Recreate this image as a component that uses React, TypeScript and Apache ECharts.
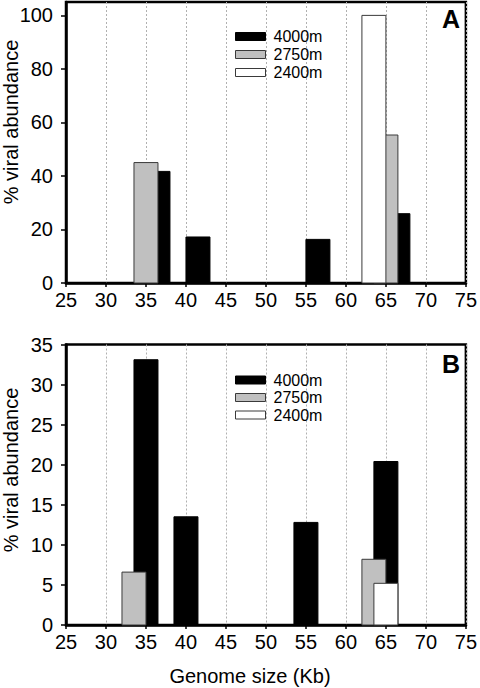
import React, { useEffect, useRef } from "react";
import * as echarts from "echarts";

// Genome size bins (Kb)
const genomeSizes = [35, 40, 55, 65];
const depthNames = ["4000m", "2750m", "2400m"];

// Panel A: % viral abundance
const a4000m = [41.7, 17.2, 16.3, 25.9];
const a2750m = [45.0, null, null, 55.3];
const a2400m = [null, null, null, 100.0];

// Panel B: % viral abundance
const b4000m = [33.1, 13.5, 12.8, 20.4];
const b2750m = [6.6, null, null, 8.2];
const b2400m = [null, null, null, 5.2];

const xTicks = [25, 30, 35, 40, 45, 50, 55, 60, 65, 70, 75];
const yTicksA = [0, 20, 40, 60, 80, 100];
const yTicksB = [0, 5, 10, 15, 20, 25, 30, 35];

const FONT = "Liberation Sans, Arial, Helvetica, sans-serif";

const styles: Record<string, { fill: string; stroke: string }> = {
  "4000m": { fill: "#000000", stroke: "#000000" },
  "2750m": { fill: "#c0c0c0", stroke: "#3a3a3a" },
  "2400m": { fill: "#ffffff", stroke: "#3a3a3a" },
};

const toData = (vals: (number | null)[]) =>
  genomeSizes.map((s, i) => [s, vals[i]]).filter((d) => d[1] != null);

const barSeries = (
  name: string,
  vals: (number | null)[],
  gi: number,
  off0: number,
  off1: number
) => ({
  type: "custom",
  name,
  xAxisIndex: gi,
  yAxisIndex: gi,
  itemStyle: { color: styles[name].fill, borderColor: styles[name].stroke, borderWidth: 1 },
  renderItem: (_params: any, api: any) => {
    const x = api.value(0);
    const y = api.value(1);
    if (y == null || isNaN(y)) return null;
    const p0 = api.coord([x + off0, y]);
    const p1 = api.coord([x + off1, 0]);
    return {
      type: "rect",
      shape: { x: p0[0], y: p0[1], width: p1[0] - p0[0], height: p1[1] - p0[1] },
      style: { fill: styles[name].fill, stroke: styles[name].stroke, lineWidth: 1 },
    };
  },
  data: toData(vals),
});

const xAxisCfg = (gi: number) => ({
  type: "value",
  gridIndex: gi,
  min: 25,
  max: 75,
  interval: 5,
  axisLine: { show: true, lineStyle: { color: "#000", width: 2.5 } },
  axisTick: { show: true, length: 4, lineStyle: { color: "#000", width: 1.5 } },
  axisLabel: {
    color: "#000",
    fontSize: 20,
    fontFamily: FONT,
    margin: 7,
    customValues: xTicks,
  },
  splitLine: { show: true, lineStyle: { color: "#b0b0b0", type: [2, 2], width: 1 } },
});

const yAxisCfg = (gi: number, max: number, interval: number, ticks: number[]) => ({
  type: "value",
  gridIndex: gi,
  min: 0,
  max,
  interval,
  axisLine: { show: true, lineStyle: { color: "#000", width: 2.5 } },
  axisTick: { show: true, length: 5, lineStyle: { color: "#000", width: 1.5 }, customValues: ticks },
  axisLabel: {
    color: "#000",
    fontSize: 20,
    fontFamily: FONT,
    margin: 13,
    customValues: ticks,
    formatter: (v: number) => (ticks.indexOf(v) >= 0 ? String(v) : ""),
  },
  splitLine: { show: false },
});

const legendCfg = (top: number, gap: number) => ({
  orient: "vertical",
  left: 230,
  top,
  itemWidth: 30,
  itemHeight: 8,
  itemGap: gap,
  icon: "rect",
  textStyle: { color: "#000", fontSize: 16, fontFamily: FONT, lineHeight: 16, padding: [0, 0, 0, 3] },
  data: depthNames.map((n) => ({
    name: n,
    itemStyle: { color: styles[n].fill, borderColor: styles[n].stroke, borderWidth: 1 },
  })),
  selectedMode: false,
});

const yTitle = (y: number) => ({
  type: "text",
  x: 10.5,
  y,
  rotation: Math.PI / 2,
  style: {
    text: "% viral abundance",
    fontSize: 20,
    lineHeight: 18,
    fontFamily: FONT,
    fill: "#000",
    align: "center",
    verticalAlign: "middle",
  },
});

export default function App() {
  const ref = useRef<HTMLDivElement>(null);
  useEffect(() => {
    if (!ref.current) return;
    const chart = echarts.init(ref.current, undefined, { renderer: "svg" });
    chart.setOption({
      animation: false,
      backgroundColor: "#ffffff",
      grid: [
        { left: 66, right: 12, top: 2, height: 281, show: true, borderColor: "#000", borderWidth: 2.5, backgroundColor: "transparent" },
        { left: 66, right: 12, top: 344.5, height: 280.5, show: true, borderColor: "#000", borderWidth: 2.5, backgroundColor: "transparent" },
      ],
      xAxis: [xAxisCfg(0), xAxisCfg(1)],
      yAxis: [yAxisCfg(0, 105, 20, yTicksA), yAxisCfg(1, 35, 5, yTicksB)],
      legend: [legendCfg(23.5, 2), legendCfg(367, 1.5)],
      series: [
        barSeries("4000m", a4000m, 0, 0, 3),
        barSeries("2750m", a2750m, 0, -1.5, 1.5),
        barSeries("2400m", a2400m, 0, -3, 0),
        barSeries("4000m", b4000m, 1, -1.5, 1.5),
        barSeries("2750m", b2750m, 1, -3, 0),
        barSeries("2400m", b2400m, 1, -1.5, 1.5),
      ],
      graphic: [
        yTitle(122),
        yTitle(470),
        {
          type: "text",
          x: 250,
          y: 676,
          style: { text: "Genome size (Kb)", fontSize: 20, fontFamily: FONT, fill: "#000", align: "center", verticalAlign: "middle" },
        },
        {
          type: "text",
          x: 451,
          y: 19,
          style: { text: "A", fontSize: 25, fontWeight: "bold", fontFamily: FONT, fill: "#000", align: "center", verticalAlign: "middle" },
        },
        {
          type: "text",
          x: 451,
          y: 364,
          style: { text: "B", fontSize: 25, fontWeight: "bold", fontFamily: FONT, fill: "#000", align: "center", verticalAlign: "middle" },
        },
      ],
    });
    return () => chart.dispose();
  }, []);
  return (
    <div
      ref={ref}
      style={{ position: "fixed", left: 0, top: 0, width: 480, height: 688, background: "#fff" }}
    />
  );
}
